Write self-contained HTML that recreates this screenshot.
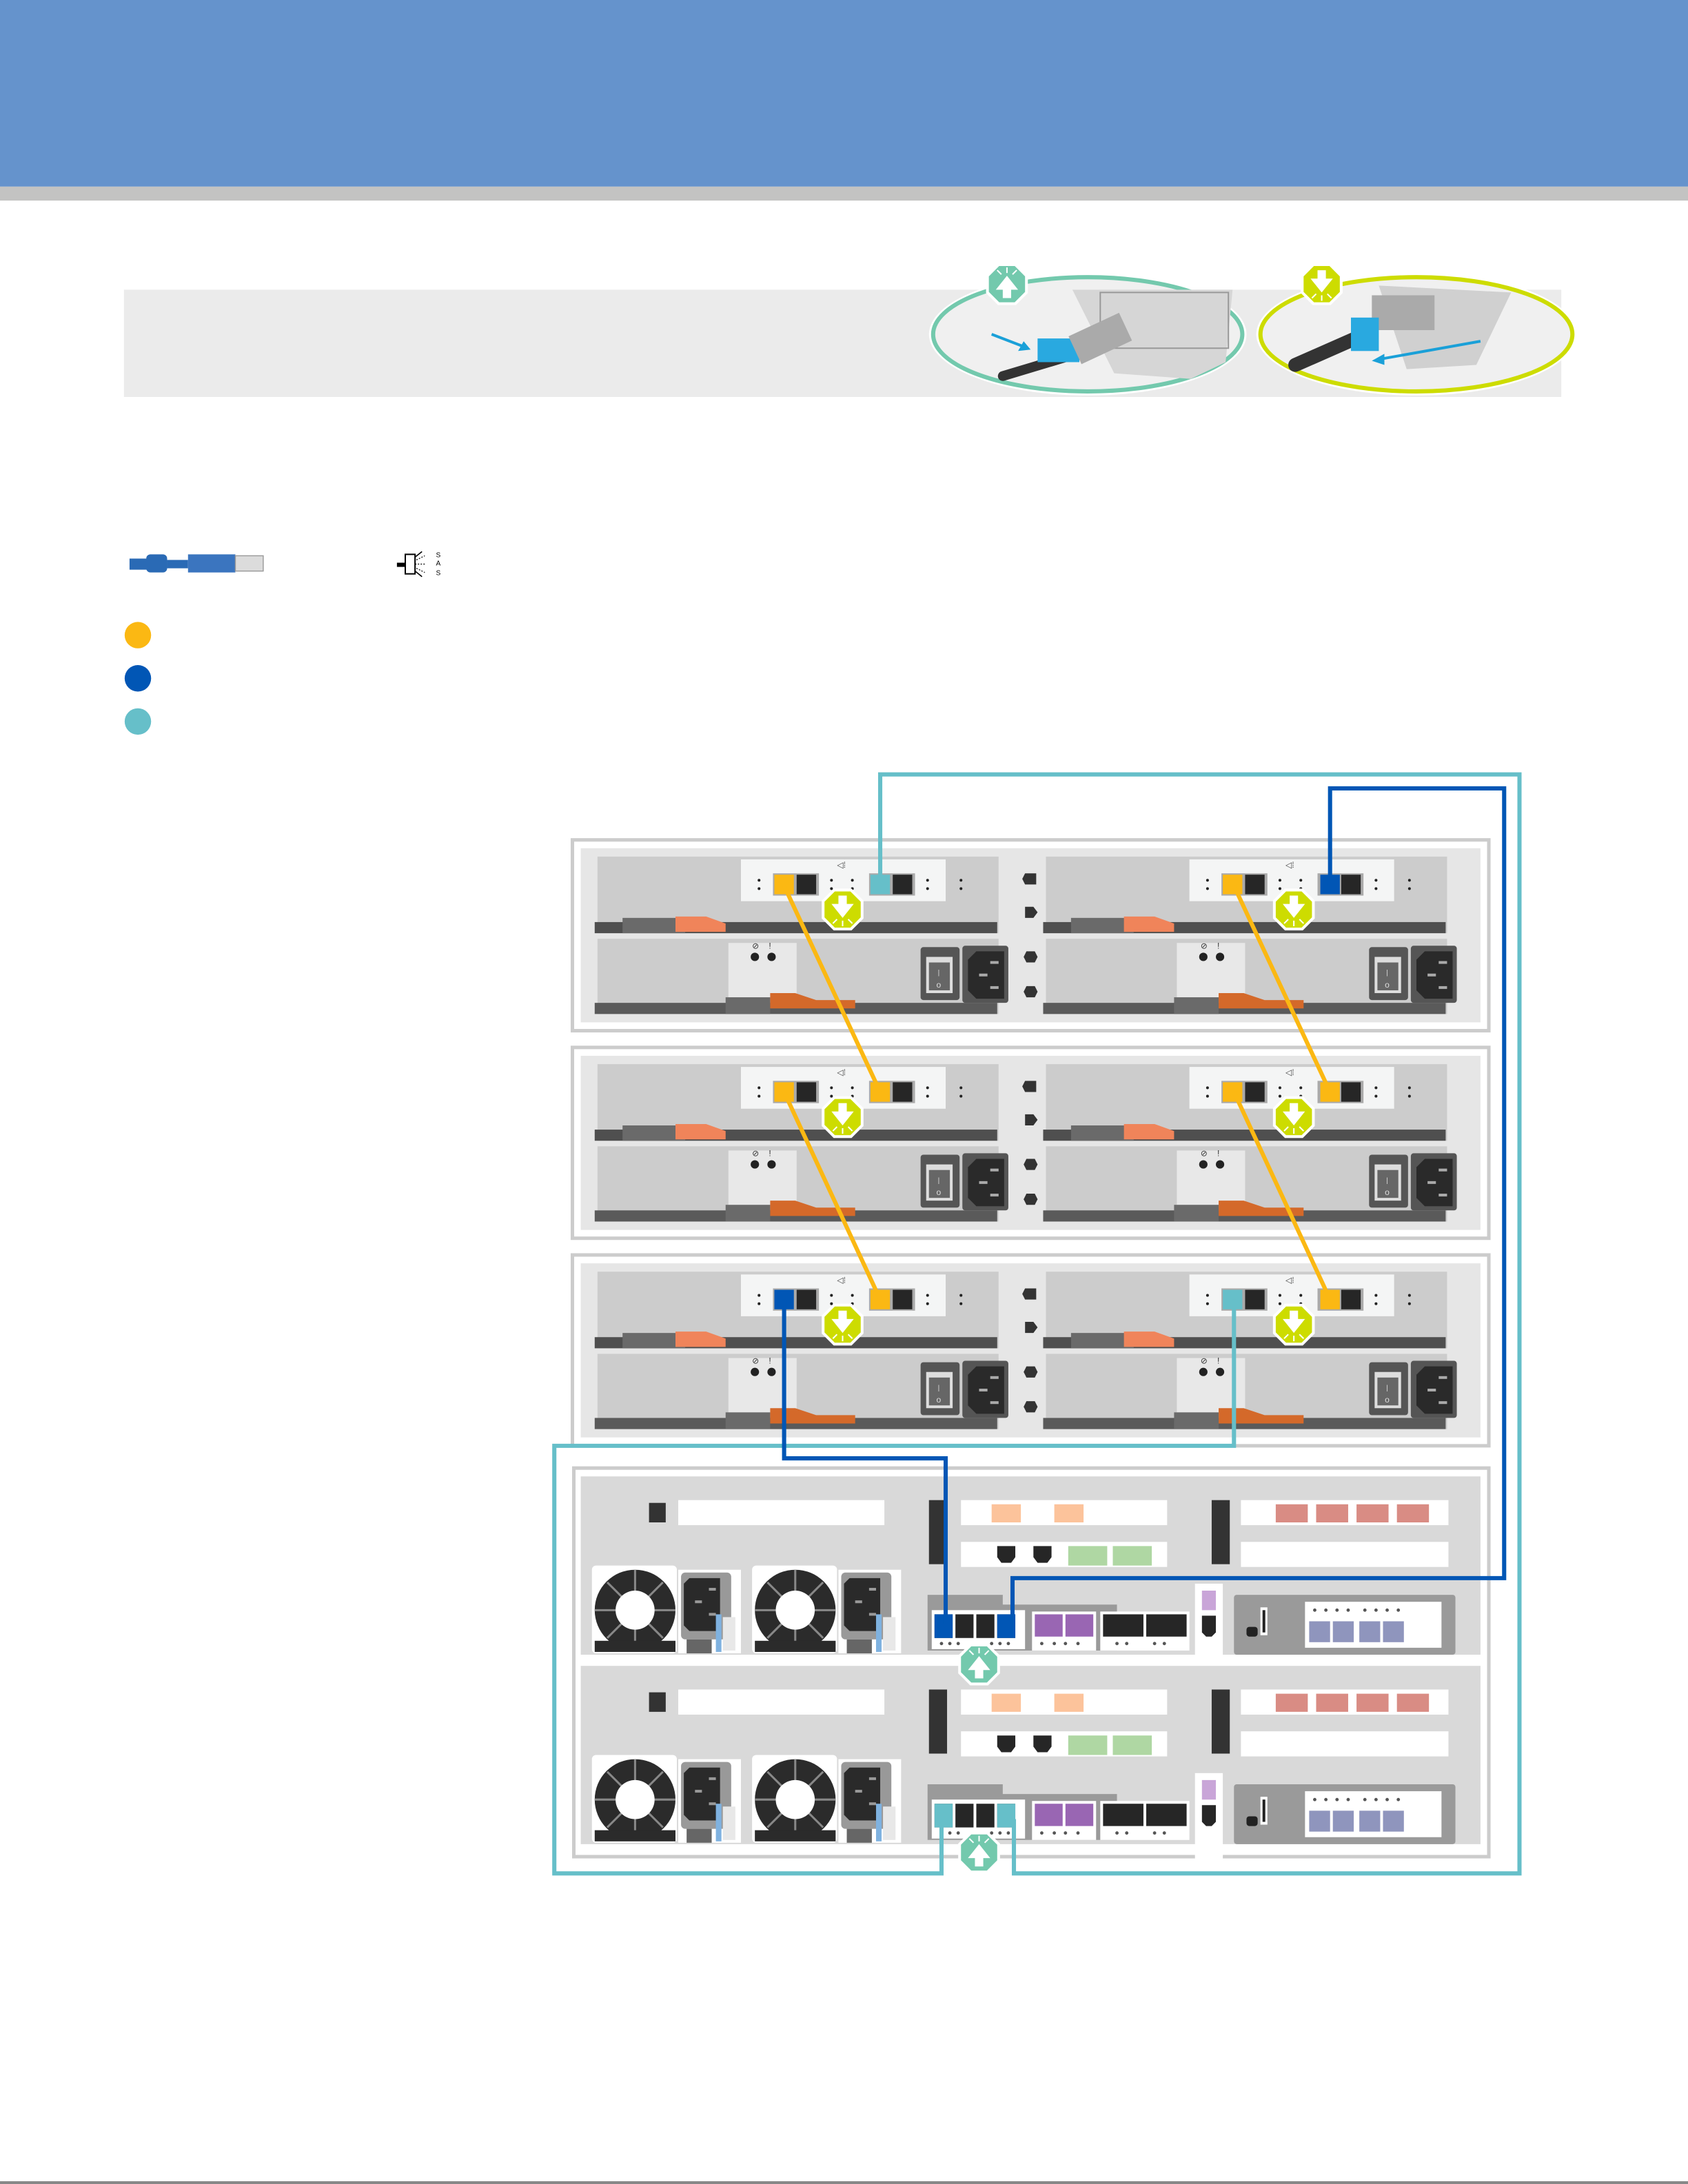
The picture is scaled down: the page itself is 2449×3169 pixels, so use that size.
<!DOCTYPE html>
<html><head><meta charset="utf-8"><style>
html,body{margin:0;padding:0;background:#fff;}
svg{display:block;}
</style></head><body>
<svg width="2449" height="3169" viewBox="0 0 1212 1568" preserveAspectRatio="none" xmlns="http://www.w3.org/2000/svg" font-family="Liberation Sans, sans-serif">
<defs>
<g id="lime">
<polygon points="-6,-14 6,-14 14,-6 14,6 6,14 -6,14 -14,6 -14,-6" fill="#cddc00" stroke="#fff" stroke-width="2"/>
<polygon points="-3,-10 3,-10 3,-4 8,-4 0,6 -8,-4 -3,-4" fill="#fff"/>
<path d="M0,8 v4 M-4,7 l-3,3 M4,7 l3,3" stroke="#fff" stroke-width="1"/>
</g>
<g id="teal">
<polygon points="-6,-14 6,-14 14,-6 14,6 6,14 -6,14 -14,6 -14,-6" fill="#73c9ad" stroke="#fff" stroke-width="2"/>
<polygon points="-3,10 3,10 3,4 8,4 0,-6 -8,4 -3,4" fill="#fff"/>
<path d="M0,-8 v-4 M-4,-7 l-3,-3 M4,-7 l3,-3" stroke="#fff" stroke-width="1"/>
</g>
<g id="mod">
<rect x="18" y="12" width="288" height="55" fill="#cccccc"/>
<rect x="18" y="71" width="288" height="54" fill="#cccccc"/>
<rect x="121" y="14" width="147" height="30" fill="#f4f5f5"/>
<rect x="144" y="24" width="33" height="16" fill="#aaa"/>
<rect x="161" y="25" width="14" height="14" fill="#262626"/>
<rect x="213" y="24" width="33" height="16" fill="#aaa"/>
<rect x="230" y="25" width="14" height="14" fill="#262626"/>
<g fill="#222"><circle cx="134" cy="29" r="1"/><circle cx="134" cy="35" r="1"/><circle cx="186" cy="29" r="1"/><circle cx="186" cy="35" r="1"/><circle cx="201" cy="29" r="1"/><circle cx="201" cy="35" r="1"/><circle cx="255" cy="29" r="1"/><circle cx="255" cy="35" r="1"/><circle cx="279" cy="29" r="1"/><circle cx="279" cy="35" r="1"/></g>
<text x="190" y="20" font-size="6" fill="#444">◁⁞</text>
<rect x="16" y="59" width="289" height="8" fill="#4f4f4f"/>
<rect x="36" y="56" width="45" height="11" fill="#6a6a6a"/>
<path d="M74,55 L96,55 L110,60 L110,66 L74,66 Z" fill="#f0845a"/>
<rect x="112" y="74" width="49" height="45" fill="#e8e8e8"/>
<circle cx="131" cy="84" r="3" fill="#222"/><circle cx="143" cy="84" r="3" fill="#222"/>
<text x="129" y="78" font-size="6" fill="#333">⊘</text><text x="141" y="78" font-size="6" fill="#333">!</text>
<rect x="16" y="117" width="289" height="8" fill="#5a5a5a"/>
<rect x="110" y="113" width="32" height="12" fill="#6a6a6a"/>
<path d="M142,110 L160,110 L175,115 L203,115 L203,121 L142,121 Z" fill="#d4692a"/>
<rect x="250" y="77" width="28" height="38" rx="2" fill="#555"/>
<rect x="254" y="84" width="19" height="26" fill="#ddd"/>
<rect x="256" y="88" width="15" height="20" fill="#666"/>
<text x="263" y="97" font-size="5" fill="#ddd" text-anchor="middle">|</text>
<text x="263" y="106" font-size="6" fill="#ddd" text-anchor="middle">o</text>
<rect x="280" y="76" width="33" height="41" rx="2" fill="#555"/>
<path d="M290,80 h20 v34 h-20 l-6,-6 v-22 z" fill="#2a2a2a"/>
<rect x="300" y="87" width="6" height="2" fill="#aaa"/><rect x="292" y="96" width="6" height="2" fill="#aaa"/><rect x="300" y="105" width="6" height="2" fill="#aaa"/>
</g>
<g id="shelf">
<rect x="0" y="0" width="658" height="137" fill="#fff" stroke="#cccccc" stroke-width="2.5"/>
<rect x="6" y="6" width="646" height="125" fill="#e6e6e6"/>
<use href="#mod"/>
<use href="#mod" x="322"/>
<g fill="#333"><path d="M325,24 h8 v8 h-8 l-2,-4 z"/><path d="M325,48 h6 l3,4 l-3,4 h-6 z"/><path d="M326,80 h6 l2,4 l-2,4 h-6 l-2,-4 z"/><path d="M326,105 h6 l2,4 l-2,4 h-6 l-2,-4 z"/></g>
<use href="#lime" x="194" y="50"/>
<use href="#lime" x="518" y="50"/>
</g>
<g id="fan">
<rect x="-31" y="-32" width="61" height="63" rx="3" fill="#fff"/>
<circle r="29" fill="#2b2b2b"/>
<path d="M-20,-20 L20,20 M20,-20 L-20,20 M0,-29 V29 M-29,0 H29" stroke="#888" stroke-width="1.5"/>
<circle r="14" fill="#fff"/>
<rect x="-29" y="22" width="58" height="8" fill="#2b2b2b"/>
</g>
<g id="psu">
<rect x="0" y="0" width="45" height="60" fill="#fff"/>
<rect x="2" y="2" width="36" height="48" rx="3" fill="#999"/>
<path d="M8,6 h22 v38 h-22 l-4,-4 v-30 z" fill="#2a2a2a"/>
<rect x="22" y="13" width="5" height="2" fill="#999"/><rect x="12" y="22" width="5" height="2" fill="#999"/><rect x="22" y="31" width="5" height="2" fill="#999"/>
<rect x="6" y="50" width="18" height="10" fill="#666"/>
<rect x="27" y="32" width="4" height="27" fill="#7fb2e0"/>
<rect x="32" y="34" width="9" height="24" fill="#e8e8e8"/>
</g>
<g id="ctrl">
<rect x="0" y="0" width="646" height="128" fill="#d9d9d9"/>
<rect x="49" y="19" width="12" height="14" fill="#333"/>
<rect x="70" y="17" width="148" height="18" fill="#fff"/>
<rect x="250" y="17" width="13" height="46" fill="#333"/>
<rect x="273" y="17" width="148" height="18" fill="#fff"/>
<rect x="273" y="47" width="148" height="18" fill="#fff"/>
<rect x="295" y="20" width="21" height="13" fill="#fcc39b"/><rect x="340" y="20" width="21" height="13" fill="#fcc39b"/>
<path d="M299,50 h13 v8 l-3,4 h-7 l-3,-4 z" fill="#262626"/><path d="M325,50 h13 v8 l-3,4 h-7 l-3,-4 z" fill="#262626"/>
<rect x="350" y="50" width="28" height="14" fill="#afd7a3"/><rect x="382" y="50" width="28" height="14" fill="#afd7a3"/>
<rect x="453" y="17" width="13" height="46" fill="#333"/>
<rect x="474" y="17" width="149" height="18" fill="#fff"/>
<rect x="474" y="47" width="149" height="18" fill="#fff"/>
<rect x="499" y="20" width="23" height="13" fill="#d98c84"/><rect x="528" y="20" width="23" height="13" fill="#d98c84"/><rect x="557" y="20" width="23" height="13" fill="#d98c84"/><rect x="586" y="20" width="23" height="13" fill="#d98c84"/>
<use href="#fan" x="39" y="96"/>
<use href="#psu" x="70" y="67"/>
<use href="#fan" x="154" y="96"/>
<use href="#psu" x="185" y="67"/>
<path d="M249,85 h54 v7 h82 v33 h-136 z" fill="#9a9a9a"/>
<rect x="252" y="96" width="67" height="28" fill="#fff"/>
<rect x="254" y="99" width="13" height="17" fill="#262626"/><rect x="269" y="99" width="13" height="17" fill="#262626"/><rect x="284" y="99" width="13" height="17" fill="#262626"/><rect x="299" y="99" width="13" height="17" fill="#262626"/>
<rect x="324" y="97" width="46" height="28" fill="#fff"/>
<rect x="326" y="99" width="20" height="16" fill="#9966b3"/><rect x="348" y="99" width="20" height="16" fill="#9966b3"/>
<rect x="373" y="97" width="64" height="28" fill="#fff"/>
<rect x="375" y="99" width="29" height="16" fill="#262626"/><rect x="406" y="99" width="29" height="16" fill="#262626"/>
<g fill="#555"><circle cx="259" cy="120" r="1.2"/><circle cx="265" cy="120" r="1.2"/><circle cx="271" cy="120" r="1.2"/><circle cx="295" cy="120" r="1.2"/><circle cx="301" cy="120" r="1.2"/><circle cx="307" cy="120" r="1.2"/><circle cx="331" cy="120" r="1.2"/><circle cx="340" cy="120" r="1.2"/><circle cx="348" cy="120" r="1.2"/><circle cx="357" cy="120" r="1.2"/><circle cx="385" cy="120" r="1.2"/><circle cx="392" cy="120" r="1.2"/><circle cx="412" cy="120" r="1.2"/><circle cx="419" cy="120" r="1.2"/></g>
<rect x="441" y="77" width="20" height="64" fill="#fff" height="62"/>
<path d="M446,82 h10 v14 h-10 z" fill="#c9a5d8"/>
<path d="M446,100 h10 v12 l-3,3 h-4 l-3,-3 z" fill="#262626"/>
<rect x="469" y="85" width="159" height="43" rx="2" fill="#9a9a9a"/>
<rect x="478" y="108" width="8" height="7" rx="2" fill="#222"/>
<rect x="488" y="94" width="5" height="20" fill="#fff"/><rect x="489.5" y="96" width="2" height="16" fill="#222"/>
<rect x="520" y="90" width="98" height="33" fill="#fff"/>
<rect x="523" y="104" width="15" height="15" fill="#8f95bd"/><rect x="540" y="104" width="15" height="15" fill="#8f95bd"/><rect x="559" y="104" width="15" height="15" fill="#8f95bd"/><rect x="576" y="104" width="15" height="15" fill="#8f95bd"/>
<g fill="#555"><circle cx="527" cy="96" r="1.2"/><circle cx="535" cy="96" r="1.2"/><circle cx="543" cy="96" r="1.2"/><circle cx="551" cy="96" r="1.2"/><circle cx="563" cy="96" r="1.2"/><circle cx="571" cy="96" r="1.2"/><circle cx="579" cy="96" r="1.2"/><circle cx="587" cy="96" r="1.2"/></g>
</g>
</defs>

<rect x="0" y="0" width="1212" height="134" fill="#6593cc"/>
<rect x="0" y="134" width="1212" height="10" fill="#c3c3c2"/>

<rect x="89" y="208" width="1032" height="77" fill="#ebebeb"/>
<!-- circles -->
<ellipse cx="781" cy="240" rx="114" ry="44" fill="#fff"/>
<ellipse cx="781" cy="240" rx="111" ry="41" fill="#f0f0f0" stroke="#73c9ad" stroke-width="3"/>
<path d="M770,208 L885,208 L880,260 L855,272 L800,268 Z" fill="#d6d6d6"/>
<path d="M790,210 h92 v40 h-92 z" fill="none" stroke="#999" stroke-width="1"/>
<path d="M720,270 L770,255" stroke="#333" stroke-width="7" stroke-linecap="round"/>
<rect x="745" y="243" width="30" height="17" fill="#29a9e0"/>
<rect x="770" y="232" width="40" height="22" fill="#aaa" transform="rotate(-25 790 243)"/>
<path d="M712,240 L738,250" stroke="#1aa0d8" stroke-width="2"/>
<polygon points="740,251 731,252 735,245" fill="#1aa0d8"/>
<ellipse cx="1017" cy="240" rx="115" ry="44" fill="#fff"/>
<ellipse cx="1017" cy="240" rx="112" ry="41" fill="#f0f0f0" stroke="#cddc00" stroke-width="3"/>
<path d="M990,205 L1085,210 L1060,262 L1010,265 Z" fill="#d0d0d0"/>
<rect x="985" y="212" width="45" height="25" fill="#aaa"/>
<path d="M930,262 L980,240" stroke="#333" stroke-width="10" stroke-linecap="round"/>
<rect x="970" y="228" width="20" height="24" fill="#29a9e0"/>
<path d="M1063,245 L990,258" stroke="#1aa0d8" stroke-width="2"/>
<polygon points="985,259 994,254 994,262" fill="#1aa0d8"/>
<use href="#teal" x="723" y="204"/>
<use href="#lime" x="949" y="204"/>

<!-- legend -->
<path d="M93,401 h20 v8 h-20 z" fill="#2a6ab5"/>
<rect x="105" y="398" width="15" height="13" rx="3" fill="#2a6ab5"/>
<rect x="120" y="402" width="15" height="6" fill="#2a6ab5"/>
<rect x="135" y="398" width="34" height="13" fill="#3b75bf"/>
<rect x="169" y="399" width="20" height="11" fill="#dcdcdc" stroke="#999" stroke-width="0.7"/>
<rect x="285" y="404" width="10" height="3" fill="#000"/>
<rect x="291" y="398" width="7" height="14" fill="#fff" stroke="#000" stroke-width="1"/>
<path d="M298,400 l5,-4 M298,410 l5,4" stroke="#000" stroke-width="0.8"/>
<path d="M298,405 h8 M299,402 l6,-3 M299,408 l6,3" stroke="#000" stroke-width="0.6" stroke-dasharray="1 1"/>
<text x="313" y="400" font-size="5">S</text><text x="313" y="406" font-size="5">A</text><text x="313" y="413" font-size="5">S</text>
<circle cx="99" cy="456" r="9.5" fill="#fbb813"/>
<circle cx="99" cy="487" r="9.5" fill="#0156b5"/>
<circle cx="99" cy="518" r="9.5" fill="#66bfc9"/>

<!-- shelves -->
<use href="#shelf" x="411" y="603"/>
<use href="#shelf" x="411" y="752"/>
<use href="#shelf" x="411" y="901"/>

<!-- controller enclosure -->
<rect x="412" y="1054" width="657" height="279" fill="#fff" stroke="#cccccc" stroke-width="2.5"/>
<use href="#ctrl" x="417" y="1060"/>
<use href="#ctrl" x="417" y="1196"/>

<!-- port colors -->
<g>
<rect x="556" y="628" width="14" height="14" fill="#fbb813"/><rect x="625" y="628" width="14" height="14" fill="#66bfc9"/>
<rect x="878" y="628" width="14" height="14" fill="#fbb813"/><rect x="948" y="628" width="14" height="14" fill="#0156b5"/>
<rect x="556" y="777" width="14" height="14" fill="#fbb813"/><rect x="625" y="777" width="14" height="14" fill="#fbb813"/>
<rect x="878" y="777" width="14" height="14" fill="#fbb813"/><rect x="948" y="777" width="14" height="14" fill="#fbb813"/>
<rect x="556" y="926" width="14" height="14" fill="#0156b5"/><rect x="625" y="926" width="14" height="14" fill="#fbb813"/>
<rect x="878" y="926" width="14" height="14" fill="#66bfc9"/><rect x="948" y="926" width="14" height="14" fill="#fbb813"/>
<rect x="671" y="1159" width="13" height="17" fill="#0156b5"/><rect x="716" y="1159" width="13" height="17" fill="#0156b5"/>
<rect x="671" y="1295" width="13" height="17" fill="#66bfc9"/><rect x="716" y="1295" width="13" height="17" fill="#66bfc9"/>
</g>

<!-- cables -->
<g fill="none" stroke-width="3" stroke-linejoin="miter">
<path d="M563,636 L632,784 M886,636 L955,784 M563,784 L632,933 M886,784 L955,933" stroke="#fbb813"/>
<path d="M632,636 V556 H1091 V1345 H728 V1306" stroke="#66bfc9"/>
<path d="M886,933 V1038 H398 V1345 H676 V1306" stroke="#66bfc9"/>
<path d="M955,636 V566 H1080 V1133 H727 V1166" stroke="#0156b5"/>
<path d="M563,933 V1047 H679 V1166" stroke="#0156b5"/>
</g>
<use href="#teal" x="703" y="1195"/>
<use href="#teal" x="703" y="1330"/>

<rect x="0" y="1566" width="1212" height="2" fill="#888"/>
</svg>
</body></html>
